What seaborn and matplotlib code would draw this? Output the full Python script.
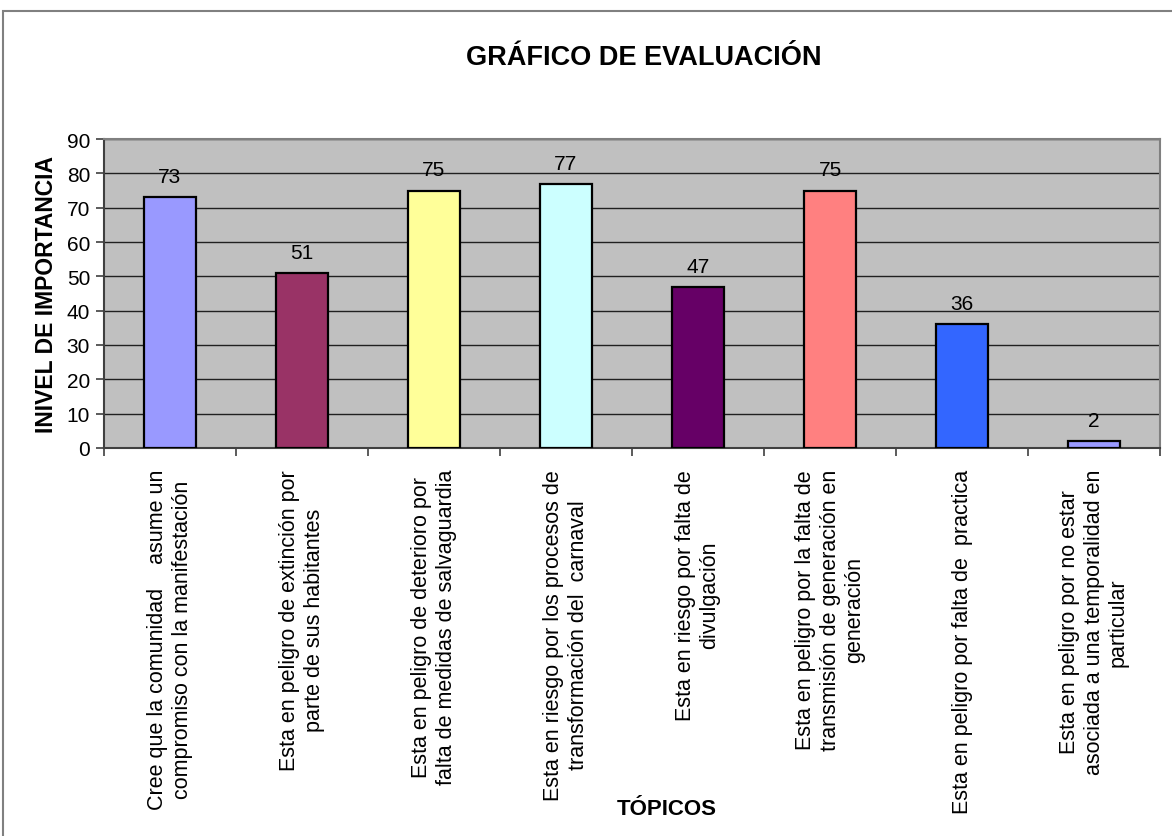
import matplotlib
matplotlib.use("Agg")
import matplotlib.pyplot as plt
import matplotlib.patches as mpatches
import seaborn as sns
import pandas as pd

# --- data ---
topics = [
    "Cree que la comunidad    asume un\ncompromiso con la manifestación",
    "Esta en peligro de extinción por\nparte de sus habitantes",
    "Esta en peligro de deterioro por\nfalta de medidas de salvaguardia",
    "Esta en riesgo por los procesos de\ntransformación del  carnaval",
    "Esta en riesgo por falta de\ndivulgación",
    "Esta en peligro por la falta de\ntransmisión de generación en\ngeneración",
    "Esta en peligro por falta de  practica",
    "Esta en peligro por no estar\nasociada a una temporalidad en\nparticular",
]
values = [73, 51, 75, 77, 47, 75, 36, 2]
bar_colors = ["#9999FF", "#993366", "#FFFF99", "#CCFFFF",
              "#660066", "#FF8080", "#3366FF", "#9999FF"]
y_ticks = list(range(0, 91, 10))

df = pd.DataFrame({"topico": topics, "valor": values})

sns.set_style("white")
plt.rcParams["font.family"] = ["Liberation Sans", "DejaVu Sans"]
plt.rcParams["text.color"] = "black"
plt.rcParams["xtick.color"] = "black"
plt.rcParams["ytick.color"] = "black"
plt.rcParams["axes.labelcolor"] = "black"

fig = plt.figure(figsize=(11.72, 8.37), dpi=100)
ax = fig.add_axes([0.0887, 0.4636, 0.9011, 0.3691])
ax.set_facecolor("#C0C0C0")

sns.barplot(data=df, x="topico", y="valor", hue="topico",
            palette=bar_colors, saturation=1, legend=False, width=0.4,
            edgecolor="black", linewidth=1.6, ax=ax, zorder=3)

# value labels
for i, v in enumerate(values):
    ax.annotate(str(v), (i, v), xytext=(0, 8), textcoords="offset points",
                ha="center", va="bottom", fontsize=15, color="black")

ax.set_ylim(0, 90)
ax.set_xlim(-0.5, len(topics) - 0.5)
ax.set_yticks(y_ticks)
ax.yaxis.grid(True, color="#202020", linewidth=1.0, zorder=1)
ax.set_axisbelow(True)

# category labels on minor ticks, boundary ticks as majors
ax.set_xticks([i - 0.5 for i in range(len(topics) + 1)])
ax.set_xticklabels([])
ax.set_xticks(range(len(topics)), minor=True)
ax.set_xticklabels(topics, minor=True, rotation=90, ha="center", va="top",
                   multialignment="center", fontsize=15.5, linespacing=1.2)
ax.tick_params(axis="x", which="minor", length=0, pad=15)
ax.tick_params(axis="x", which="major", length=6, width=1.2,
               color="#404040", direction="out", bottom=True)
ax.tick_params(axis="y", length=6, width=1.2, color="#404040",
               direction="out", left=True, labelsize=15, pad=4)

for side in ["top", "right"]:
    ax.spines[side].set_color("#808080")
    ax.spines[side].set_linewidth(1.5)
for side in ["left", "bottom"]:
    ax.spines[side].set_color("#404040")
    ax.spines[side].set_linewidth(1.5)

ax.set_xlabel("")
ax.set_ylabel("INIVEL DE IMPORTANCIA", fontsize=16.5, fontweight="bold",
              labelpad=6)

fig.text(644 / 1172, 1 - 58 / 837, "GRÁFICO DE EVALUACIÓN", fontsize=19.5,
         fontweight="bold", ha="center", va="center")
fig.text(667 / 1172, 1 - 810 / 837, "TÓPICOS", fontsize=16,
         fontweight="bold", ha="center", va="center")

# outer chart border (runs off the right and bottom edges)
border = mpatches.Rectangle((3 / 1172, -0.1), 1.2, (837 - 12) / 837 + 0.1,
                            transform=fig.transFigure, fill=False,
                            edgecolor="#808080", linewidth=1.5, clip_on=False)
fig.patches.append(border)

fig.savefig("out.png", dpi=100)
